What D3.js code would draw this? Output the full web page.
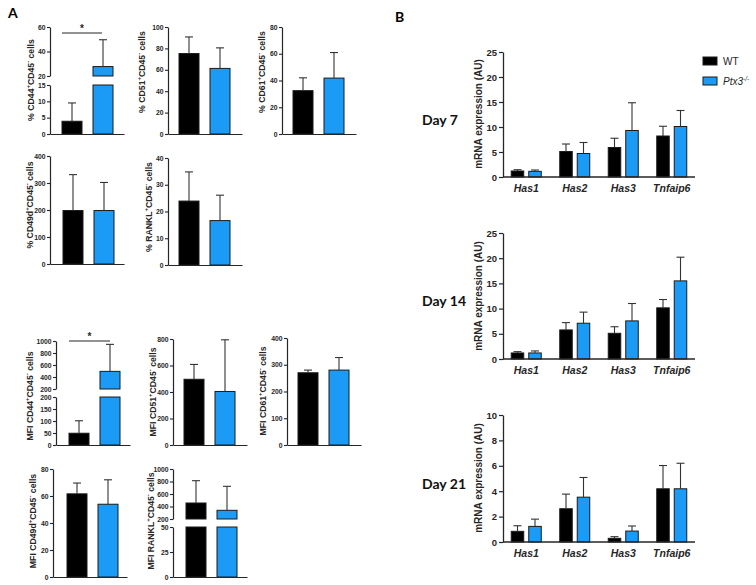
<!DOCTYPE html>
<html><head><meta charset="utf-8">
<script src="https://cdn.jsdelivr.net/npm/d3@7"></script>
<style>body{margin:0;background:#fff} svg{display:block}</style>
</head><body><svg id="c" width="756" height="585"></svg>
<script>
// ---------- DATA ----------
const groups = ["WT", "Ptx3-/-"];
// Panel A : mean and SD, [WT, Ptx3-/-]
const pctCD44 = [3.9, 27.7],  pctCD44Sd = [5.6, 21.9];
const pctCD51 = [75.2, 61.3], pctCD51Sd = [15.5, 19.2];
const pctCD61 = [32.4, 41.8], pctCD61Sd = [9.6, 19.1];
const pctCD49d = [198, 198],  pctCD49dSd = [133, 104];
const pctRANKL = [23.9, 16.6], pctRANKLSd = [10.9, 9.5];
const mfiCD44 = [49, 494],    mfiCD44Sd = [52, 450];
const mfiCD51 = [496, 404],   mfiCD51Sd = [112, 390];
const mfiCD61 = [270, 280],   mfiCD61Sd = [10, 47];
const mfiCD49d = [61.6, 53.9], mfiCD49dSd = [8, 18.1];
const mfiRANKL = [456, 339],  mfiRANKLSd = [357, 384];

// tick labels panel A
const tPctCD44Low = [0, 5, 10, 15], tPctCD44High = [20, 40, 60];
const tPctCD51 = [0, 20, 40, 60, 80, 100];
const tPctCD61 = [0, 20, 40, 60, 80];
const tPctCD49d = [0, 100, 200, 300, 400];
const tPctRANKL = [0, 10, 20, 30, 40];
const tMfiCD44Low = [0, 50, 100, 150, 200], tMfiCD44High = [200, 400, 600, 800, 1000];
const tMfiCD51 = [0, 200, 400, 600, 800];
const tMfiCD61 = [0, 100, 200, 300, 400];
const tMfiCD49d = [0, 20, 40, 60, 80];
const tMfiRANKLLow = [0, 25, 50], tMfiRANKLHigh = [200, 400, 600, 800, 1000];

// Panel B : mRNA expression (AU)
const genes = ["Has1", "Has2", "Has3", "Tnfaip6"];
const day7WT = [1.2, 5.1, 5.9, 8.2],      day7WTSd = [0.26, 1.5, 1.85, 1.95];
const day7KO = [1.13, 4.7, 9.3, 10.1],    day7KOSd = [0.27, 2.2, 5.55, 3.2];
const day14WT = [1.2, 5.77, 5.1, 10.15],  day14WTSd = [0.26, 1.45, 1.3, 1.65];
const day14KO = [1.2, 7.1, 7.56, 15.5],   day14KOSd = [0.4, 2.2, 3.45, 4.7];
const day21WT = [0.84, 2.62, 0.29, 4.19], day21WTSd = [0.44, 1.15, 0.13, 1.83];
const day21KO = [1.23, 3.53, 0.86, 4.19], day21KOSd = [0.57, 1.55, 0.4, 2.01];
const tDay725 = [0, 5, 10, 15, 20, 25];
const tDay2110 = [0, 2, 4, 6, 8, 10];

// ---------- STYLE ----------
const BLUE = "#1b9bf5", BLACK = "#000", INK = "#262626";
const TF = "'Liberation Sans', Arial, sans-serif";
const HF = "Lato, 'Open Sans', sans-serif";
const colors = [BLACK, BLUE];
const fmt = d3.format("d");

const svg = d3.select("#c");

function rich(sel, parts, fs) {
  let prevSup = false;
  parts.forEach(([t, sup]) => {
    const ts = sel.append("tspan").text(t).attr("font-size", sup ? fs * 0.68 : fs);
    if (sup && !prevSup) ts.attr("dy", -fs * 0.42);
    else if (!sup && prevSup) ts.attr("dy", fs * 0.42);
    prevSup = !!sup;
  });
}
function mk(name) { return [["% " + name], ["+", 1], ["CD45"], ["-", 1], [" cells"]]; }
function mkM(name) { return [["MFI " + name], ["+", 1], ["CD45"], ["-", 1], [" cells"]]; }

// ---------- PANEL A ----------
const chartsA = [
  {m: pctCD44, s: pctCD44Sd, ax: 50, off: 6.5, segs: [{d:[0,15], r:[134,85], t:tPctCD44Low}, {d:[20,60], r:[76,27], t:tPctCD44High}], lab: mk("CD44"), lx: 34, ly: 80, sig: {x1: 62, x2: 102, y: 33}},
  {m: pctCD51, s: pctCD51Sd, ax: 168, off: 5.5, segs: [{d:[0,100], r:[134,27], t:tPctCD51}], lab: mk("CD51"), lx: 145, ly: 72},
  {m: pctCD61, s: pctCD61Sd, ax: 282, off: 5.5, segs: [{d:[0,80], r:[134,27], t:tPctCD61}], lab: mk("CD61"), lx: 265, ly: 72},
  {m: pctCD49d, s: pctCD49dSd, ax: 50, off: 7.5, segs: [{d:[0,400], r:[264,156], t:tPctCD49d}], lab: mk("CD49d"), lx: 32.5, ly: 205},
  {m: pctRANKL, s: pctRANKLSd, ax: 168, off: 5.5, segs: [{d:[0,40], r:[265,158], t:tPctRANKL}], lab: mk("RANKL"), lx: 152, ly: 207},
  {m: mfiCD44, s: mfiCD44Sd, ax: 56, off: 7.5, segs: [{d:[0,200], r:[445,397], t:tMfiCD44Low}, {d:[200,1000], r:[389,341], t:tMfiCD44High}], lab: mkM("CD44"), lx: 33, ly: 396, sig: {x1: 69, x2: 110, y: 341}},
  {m: mfiCD51, s: mfiCD51Sd, ax: 173, off: 5.5, segs: [{d:[0,800], r:[445,339], t:tMfiCD51}], lab: mkM("CD51"), lx: 155.5, ly: 392},
  {m: mfiCD61, s: mfiCD61Sd, ax: 287, off: 5.5, segs: [{d:[0,400], r:[445,338], t:tMfiCD61}], lab: mkM("CD61"), lx: 265.5, ly: 391},
  {m: mfiCD49d, s: mfiCD49dSd, ax: 53, off: 8.5, segs: [{d:[0,80], r:[577,469], t:tMfiCD49d}], lab: mkM("CD49d"), lx: 36, ly: 521},
  {m: mfiRANKL, s: mfiRANKLSd, ax: 173, off: 7.5, segs: [{d:[0,50], r:[577,527], t:tMfiRANKLLow}, {d:[200,1000], r:[519,469], t:tMfiRANKLHigh}], lab: mkM("RANKL"), lx: 153.5, ly: 521}
];

chartsA.forEach(c => {
  const g = svg.append("g");
  const x = d3.scaleBand().domain(groups).range([c.ax + c.off, c.ax + c.off + 62]);
  const bw = 20;
  const base = c.segs[0].r[0];
  c.segs.forEach(sg => {
    sg.y = d3.scaleLinear().domain(sg.d).range(sg.r);
    const ax = g.append("g").attr("transform", `translate(${c.ax},0)`)
      .call(d3.axisLeft(sg.y).tickValues(sg.t).tickFormat(fmt).tickSize(3).tickSizeOuter(0).tickPadding(1.5));
    ax.select(".domain").attr("stroke", INK).attr("stroke-width", 1.2);
    ax.selectAll(".tick line").attr("stroke", INK).attr("stroke-width", 1.1);
    ax.selectAll(".tick text").attr("font-family", TF).attr("font-weight", "bold").attr("font-size", 6.8).attr("fill", INK);
  });
  // bars
  c.segs.forEach(sg => {
    groups.forEach((gr, i) => {
      const v = c.m[i];
      if (v <= sg.d[0]) return;
      const top = sg.y(Math.min(v, sg.d[1])), bot = sg.y(sg.d[0]);
      g.append("rect").attr("x", x(gr) + (x.bandwidth() - bw) / 2).attr("y", top)
        .attr("width", bw).attr("height", bot - top)
        .attr("fill", colors[i]).attr("stroke", "#1a1a1a").attr("stroke-width", 1);
    });
  });
  // error bars
  groups.forEach((gr, i) => {
    const v = c.m[i], t = v + c.s[i];
    const sg = c.segs.filter(s => t >= s.d[0] && t <= s.d[1] * 1.001).pop() || c.segs[c.segs.length - 1];
    const y0 = sg.y(Math.max(v, sg.d[0])), y1 = sg.y(t);
    const cx = x(gr) + x.bandwidth() / 2;
    g.append("line").attr("x1", cx).attr("x2", cx).attr("y1", y0).attr("y2", y1).attr("stroke", "#333").attr("stroke-width", 1.1);
    g.append("line").attr("x1", cx - 4).attr("x2", cx + 4).attr("y1", y1).attr("y2", y1).attr("stroke", "#333").attr("stroke-width", 1.1);
  });
  // x baseline
  const xl = d3.scaleLinear().domain([0, 1]).range([c.ax, c.ax + 74]);
  const xa = g.append("g").attr("transform", `translate(0,${base})`).call(d3.axisBottom(xl).tickValues([]).tickSizeOuter(0));
  xa.select(".domain").attr("stroke", INK).attr("stroke-width", 1.2);
  // label
  const lt = g.append("text").attr("transform", `translate(${c.lx},${c.ly}) rotate(-90)`)
    .attr("text-anchor", "middle").attr("font-family", TF).attr("font-weight", "bold").attr("fill", INK);
  rich(lt, c.lab, 8.7);
  if (c.sig) {
    g.append("line").attr("x1", c.sig.x1).attr("x2", c.sig.x2).attr("y1", c.sig.y).attr("y2", c.sig.y).attr("stroke", INK).attr("stroke-width", 1);
    g.append("text").attr("x", (c.sig.x1 + c.sig.x2) / 2).attr("y", c.sig.y - 1.5).attr("text-anchor", "middle")
      .attr("font-family", TF).attr("font-weight", "bold").attr("font-size", 10).attr("fill", INK).text("*");
  }
});

svg.append("text").attr("x", 8).attr("y", 18).attr("font-family", HF).attr("font-weight", "bold").attr("font-size", 14).text("A");
svg.append("text").attr("x", 395).attr("y", 22).attr("font-family", HF).attr("font-weight", "bold").attr("font-size", 14).text("B");

// ---------- PANEL B ----------
const chartsB = [
  {wt: day7WT, wts: day7WTSd, ko: day7KO, kos: day7KOSd, max: 25, r: [177, 52], t: tDay725, day: "Day 7", dy: 125, ly: 114},
  {wt: day14WT, wts: day14WTSd, ko: day14KO, kos: day14KOSd, max: 25, r: [359, 233], t: tDay725, day: "Day 14", dy: 306, ly: 296},
  {wt: day21WT, wts: day21WTSd, ko: day21KO, kos: day21KOSd, max: 10, r: [542, 415], t: tDay2110, day: "Day 21", dy: 489, ly: 478}
];
const AXB = 503;
const x0 = d3.scaleBand().domain(genes).range([502, 696]);
const x1 = d3.scaleBand().domain(groups).range([-15, 15]).paddingInner(0.286);

chartsB.forEach(c => {
  const g = svg.append("g");
  const y = d3.scaleLinear().domain([0, c.max]).range(c.r);
  const ya = g.append("g").attr("transform", `translate(${AXB},0)`)
    .call(d3.axisLeft(y).tickValues(c.t).tickFormat(fmt).tickSize(4).tickSizeOuter(0).tickPadding(2));
  ya.select(".domain").attr("stroke", INK).attr("stroke-width", 1.3);
  ya.selectAll(".tick line").attr("stroke", INK).attr("stroke-width", 1.2);
  ya.selectAll(".tick text").attr("font-family", TF).attr("font-weight", "bold").attr("font-size", 9.5).attr("fill", INK);

  const series = [[c.wt, c.wts], [c.ko, c.kos]];
  genes.forEach((gn, j) => {
    const cx0 = x0(gn) + x0.bandwidth() / 2;
    groups.forEach((gr, i) => {
      const v = series[i][0][j], sd = series[i][1][j];
      const bx = cx0 + x1(gr);
      g.append("rect").attr("x", bx).attr("y", y(v)).attr("width", x1.bandwidth()).attr("height", y(0) - y(v))
        .attr("fill", colors[i]).attr("stroke", "#1a1a1a").attr("stroke-width", 1);
      const cx = bx + x1.bandwidth() / 2;
      g.append("line").attr("x1", cx).attr("x2", cx).attr("y1", y(v)).attr("y2", y(v + sd)).attr("stroke", "#333").attr("stroke-width", 1.1);
      g.append("line").attr("x1", cx - 4).attr("x2", cx + 4).attr("y1", y(v + sd)).attr("y2", y(v + sd)).attr("stroke", "#333").attr("stroke-width", 1.1);
    });
  });
  const xa = g.append("g").attr("transform", `translate(0,${c.r[0]})`)
    .call(d3.axisBottom(x0).tickSize(0).tickSizeOuter(0).tickPadding(8));
  xa.select(".domain").attr("stroke", INK).attr("stroke-width", 1.3).attr("d", `M${AXB},0H695`);
  xa.selectAll(".tick text").attr("font-family", TF).attr("font-weight", "bold").attr("font-style", "italic")
    .attr("font-size", 10.5).attr("fill", INK);

  g.append("text").attr("transform", `translate(482,${c.ly}) rotate(-90)`).attr("text-anchor", "middle")
    .attr("font-family", TF).attr("font-weight", "bold").attr("font-size", 10).attr("fill", INK).text("mRNA expression (AU)");
  g.append("text").attr("x", 422).attr("y", c.dy).attr("font-family", HF).attr("font-weight", "bold")
    .attr("font-size", 14).attr("fill", "#111").text(c.day);
});

// legend
const leg = svg.append("g");
groups.forEach((gr, i) => {
  const yy = 57 + i * 20;
  leg.append("rect").attr("x", 703).attr("y", yy).attr("width", 14).attr("height", 8)
    .attr("fill", colors[i]).attr("stroke", "#1a1a1a").attr("stroke-width", 1);
  const t = leg.append("text").attr("x", 723).attr("y", yy + 8).attr("font-family", TF).attr("font-size", 10).attr("fill", INK);
  if (i === 0) t.text(gr);
  else {
    t.append("tspan").attr("font-style", "italic").text("Ptx3");
    t.append("tspan").attr("font-style", "italic").attr("font-size", 6.5).attr("dy", -4).text("-/-");
  }
});
</script></body></html>
